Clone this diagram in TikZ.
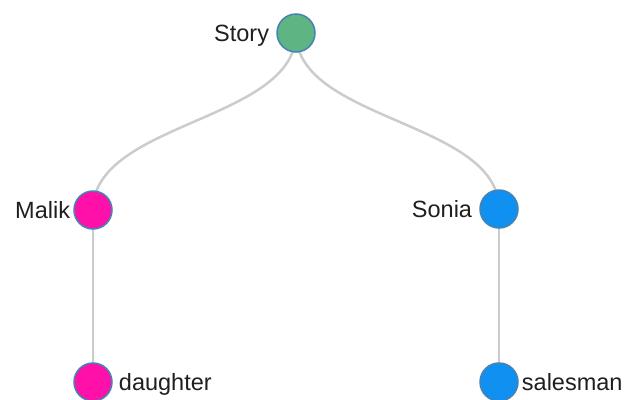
\documentclass[tikz,border=0pt]{standalone}
\usepackage{fontspec}
\setmainfont{Liberation Sans}
\usetikzlibrary{backgrounds}
\definecolor{storygreen}{RGB}{94,180,130}
\definecolor{castpink}{RGB}{255,16,168}
\definecolor{castblue}{RGB}{16,144,240}
\definecolor{rim}{RGB}{70,130,180}
\definecolor{link}{RGB}{204,204,204}
\begin{document}
\begin{tikzpicture}[x=1pt,y=-1pt,
  dot/.style={circle, draw=rim, line width=1.5pt, minimum size=38pt, inner sep=0pt},
  txt/.style={font=\fontsize{23.5}{26}\selectfont, text=black!88, inner sep=0pt},
  linkline/.style={draw=link, line width=2.5pt}]
\useasboundingbox (0,0) rectangle (628,399);

% tree nodes
\node[dot, fill=storygreen] (story)    at (296,33)  {};
\node[dot, fill=castpink]   (malik)    at (93,210)  {};
\node[dot, fill=castblue]   (sonia)    at (499,209) {};
\node[dot, fill=castpink]   (daughter) at (93,382)  {};
\node[dot, fill=castblue]   (salesman) at (499,382) {};

% labels
\node[txt, anchor=base east] (storytxt) at ([xshift=-7pt,yshift=-8pt]story.west) {Story};
\node[txt, anchor=base east] (maliktxt) at ([xshift=-3pt,yshift=-8pt]malik.west) {Malik};
\node[txt, anchor=base east] (soniatxt) at ([xshift=-7pt,yshift=-8pt]sonia.west) {Sonia};
\node[txt, anchor=base west] (daughtertxt) at ([xshift=6pt,yshift=-8pt]daughter.east) {daughter};
\node[txt, anchor=base west] (salesmantxt) at ([xshift=3pt,yshift=-8pt]salesman.east) {salesman};

% white page and links, behind the nodes
\begin{scope}[on background layer]
  \fill[white] (0,0) rectangle (628,399);
  \path[linkline] (story.center) .. controls +(0,88.5) and +(0,-88.5) .. (malik.center);
  \path[linkline] (story.center) .. controls +(0,88) and +(0,-88) .. (sonia.center);
  \path[linkline] (malik.center) -- (daughter.center);
  \path[linkline] (sonia.center) -- (salesman.center);
\end{scope}
\end{tikzpicture}
\end{document}
